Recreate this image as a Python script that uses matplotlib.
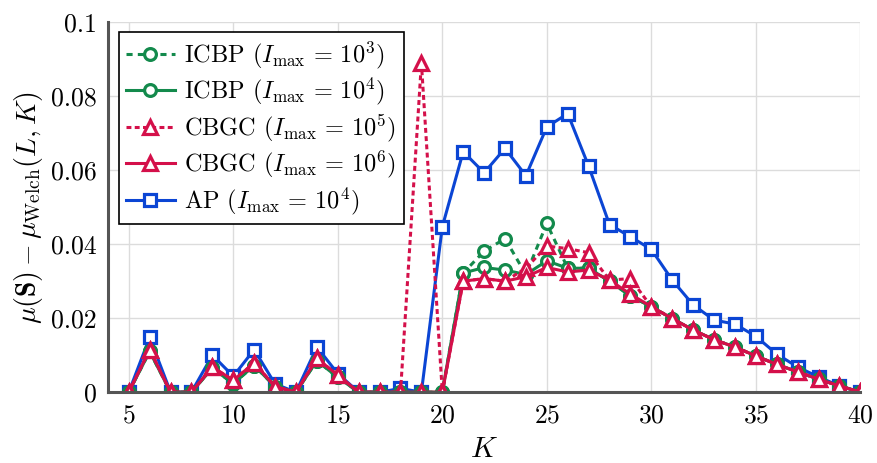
import matplotlib
matplotlib.use("Agg")
import matplotlib.pyplot as plt

# font setup - computer modern look
plt.rcParams['font.family'] = 'serif'
plt.rcParams['font.serif'] = ['cmr10', 'DejaVu Serif']
plt.rcParams['mathtext.fontset'] = 'cm'
plt.rcParams['axes.formatter.use_mathtext'] = True

# data
K = list(range(5, 41))

icbp_1e3 = [0, 0.011, 0, 0, 0.0065, 0.0023, 0.0072, 0.0015, 0, 0.0085,
            0.004, 0, 0, 0, 0, 0, 0.0322, 0.0381, 0.0415, 0.0318,
            0.0456, 0.0335, 0.0335, 0.030, 0.026, 0.0231, 0.0199, 0.0168, 0.0142, 0.0122,
            0.0098, 0.0075, 0.0055, 0.0035, 0.0017, 0]
icbp_1e4 = [0, 0.011, 0, 0, 0.0065, 0.0023, 0.0072, 0.0015, 0, 0.0085,
            0.004, 0, 0, 0, 0, 0, 0.0322, 0.0337, 0.033, 0.0318,
            0.0355, 0.0335, 0.0335, 0.030, 0.026, 0.0231, 0.0199, 0.0168, 0.0142, 0.0122,
            0.0098, 0.0075, 0.0055, 0.0035, 0.0017, 0]
cbgc_1e5 = [0, 0.0115, 0, 0, 0.0068, 0.0032, 0.0079, 0.0015, 0, 0.0091,
            0.0046, 0, 0, 0, 0.089, 0, 0.030, 0.0307, 0.030, 0.0335,
            0.0395, 0.0388, 0.0377, 0.0303, 0.0307, 0.0231, 0.0199, 0.0168, 0.0142, 0.0122,
            0.0098, 0.0075, 0.0055, 0.0035, 0.0017, 0]
cbgc_1e6 = [0, 0.0115, 0, 0, 0.0068, 0.0032, 0.0079, 0.0015, 0, 0.0091,
            0.0046, 0, 0, 0, 0, 0, 0.030, 0.0307, 0.030, 0.0312,
            0.0337, 0.0325, 0.033, 0.0303, 0.0265, 0.0231, 0.0199, 0.0168, 0.0142, 0.0122,
            0.0098, 0.0075, 0.0055, 0.0035, 0.0017, 0]
ap_1e4 = [0, 0.0148, 0, 0, 0.010, 0.0043, 0.0115, 0.0022, 0, 0.0122,
          0.005, 0, 0, 0.001, 0, 0.0447, 0.065, 0.0593, 0.0659, 0.0585,
          0.0717, 0.0753, 0.0611, 0.0453, 0.042, 0.0386, 0.0303, 0.0236, 0.0195, 0.0184,
          0.0151, 0.0103, 0.0068, 0.0041, 0.0017, 0]

labels = [r'ICBP $(I_{\max}\,=\,10^3)$', r'ICBP $(I_{\max}\,=\,10^4)$',
          r'CBGC $(I_{\max}\,=\,10^5)$', r'CBGC $(I_{\max}\,=\,10^6)$',
          r'AP $(I_{\max}\,=\,10^4)$']

green = '#138a4c'
red = '#d4104a'
blue = '#0b45d4'

fig = plt.figure(figsize=(8.77, 4.63), dpi=100)
ax = fig.add_axes([0.123, 0.153, 0.858, 0.799])

# common marker style
kw = dict(lw=2.2, mew=2.3, markerfacecolor='white')

ax.plot(K, icbp_1e3, color=green, marker='o', ms=8.5, dashes=(2.0, 1.7), label=labels[0], zorder=3, **kw)
ax.plot(K, icbp_1e4, color=green, marker='o', ms=8.5, label=labels[1], zorder=4, **kw)
ax.plot(K, cbgc_1e5, color=red, marker='^', ms=9.5, dashes=(1.6, 1.1), label=labels[2], zorder=5, **kw)
ax.plot(K, cbgc_1e6, color=red, marker='^', ms=9.5, label=labels[3], zorder=6, **kw)
ax.plot(K, ap_1e4, color=blue, marker='s', ms=8.5, label=labels[4], zorder=2, **kw)

ax.set_xlim(4, 40)
ax.set_ylim(0, 0.1)
ax.set_xticks([5, 10, 15, 20, 25, 30, 35, 40])
ax.set_yticks([0, 0.02, 0.04, 0.06, 0.08, 0.1])
ax.set_yticklabels(['0', '0.02', '0.04', '0.06', '0.08', '0.1'])

ax.grid(True, color='#dcdcdc', lw=1.0)
ax.set_axisbelow(True)
for s in ['top', 'right']:
    ax.spines[s].set_visible(False)
for s in ['left', 'bottom']:
    ax.spines[s].set_color('#555555')
    ax.spines[s].set_linewidth(2.2)
    ax.spines[s].set_zorder(7)
ax.tick_params(length=0, labelsize=18.5, pad=8)

ax.set_xlabel(r'$K$', fontsize=21, labelpad=7)
ax.set_ylabel(r'$\mu(\mathbf{S}) - \mu_{\mathrm{Welch}}(L, K)$', fontsize=20, labelpad=4)

leg = ax.legend(loc='upper left', bbox_to_anchor=(0.0146, 0.973), fontsize=17.5,
                fancybox=False, edgecolor='black', framealpha=1, borderaxespad=0,
                handlelength=2.0, handletextpad=0.4, labelspacing=0.2,
                borderpad=0.3)
leg.get_frame().set_linewidth(1.2)
leg.set_zorder(10)

fig.savefig('out.png', dpi=100)
